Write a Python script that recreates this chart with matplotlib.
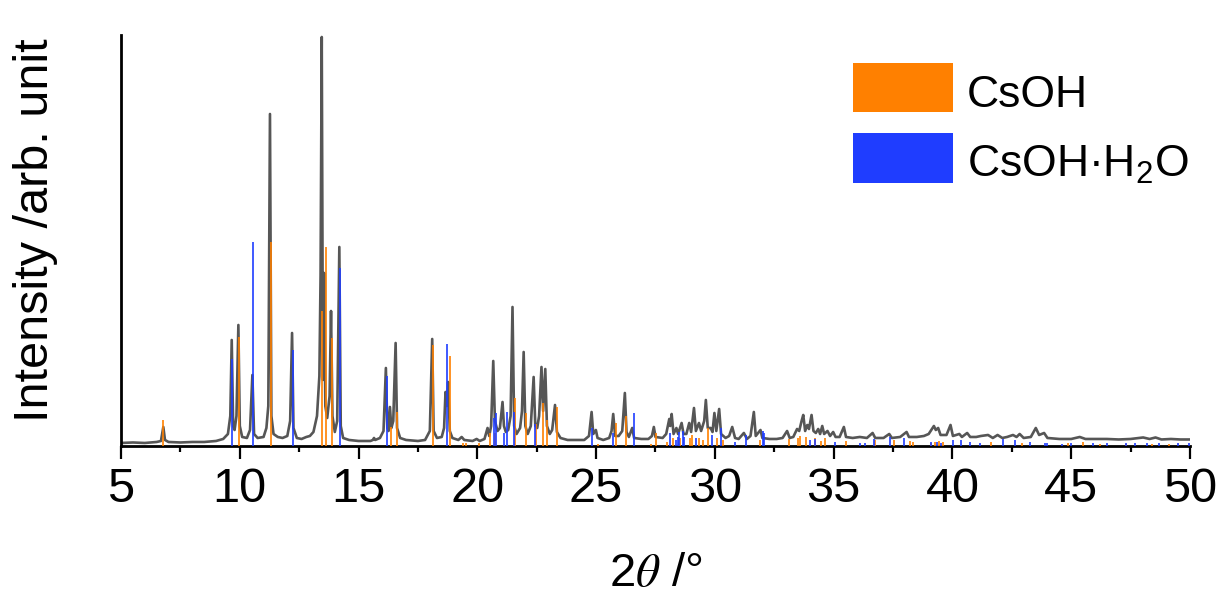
import matplotlib
matplotlib.use('Agg')
import matplotlib.pyplot as plt
from matplotlib.patches import Rectangle

plt.rcParams['font.family'] = ['Liberation Sans', 'DejaVu Sans']
plt.rcParams['mathtext.fontset'] = 'custom'
plt.rcParams['mathtext.rm'] = 'Liberation Sans'
plt.rcParams['mathtext.it'] = 'Liberation Sans:italic'

two_theta = [5.0, 5.5, 6.0, 6.5, 6.68, 6.78, 6.85, 7.0, 7.5, 8.0, 8.5, 9.0, 9.3, 9.5, 9.6, 9.66, 9.72, 9.78,
             9.86, 9.94, 10.0, 10.1, 10.3, 10.43, 10.53, 10.6, 10.75, 11.0, 11.12, 11.2, 11.27, 11.33, 11.42,
             11.6, 11.8, 12.0, 12.12, 12.2, 12.26, 12.4, 12.6, 12.8, 12.95, 13.1, 13.25, 13.35, 13.4, 13.45,
             13.5, 13.55, 13.6, 13.68, 13.78, 13.84, 13.9, 14.0, 14.1, 14.19, 14.25, 14.35, 14.6, 15.0, 15.5,
             15.6, 15.65, 15.7, 15.9, 16.05, 16.15, 16.21, 16.26, 16.32, 16.38, 16.46, 16.56, 16.62, 16.75,
             17.0, 17.5, 17.8, 18.0, 18.1, 18.16, 18.3, 18.5, 18.6, 18.66, 18.71, 18.77, 18.84, 18.95, 19.2,
             19.34, 19.45, 19.8, 19.97, 20.1, 20.3, 20.43, 20.5, 20.58, 20.67, 20.74, 20.85, 20.95, 21.06,
             21.12, 21.2, 21.3, 21.4, 21.48, 21.55, 21.65, 21.8, 21.88, 21.95, 22.02, 22.12, 22.25, 22.37,
             22.44, 22.52, 22.6, 22.7, 22.77, 22.86, 22.93, 23.05, 23.15, 23.27, 23.35, 23.5, 23.8, 24.2,
             24.5, 24.7, 24.81, 24.88, 24.99, 25.06, 25.3, 25.55, 25.65, 25.72, 25.8, 25.95, 26.1, 26.21,
             26.28, 26.38, 26.52, 26.6, 26.9, 27.2, 27.35, 27.43, 27.5, 27.8, 27.95, 28.08, 28.12, 28.18,
             28.26, 28.38, 28.45, 28.6, 28.68, 28.8, 28.92, 29.0, 29.12, 29.2, 29.33, 29.42, 29.55, 29.62,
             29.7, 29.82, 29.9, 29.98, 30.06, 30.18, 30.26, 30.45, 30.6, 30.73, 30.85, 31.0, 31.22, 31.35,
             31.5, 31.64, 31.72, 31.92, 32.0, 32.3, 32.6, 32.85, 33.04, 33.15, 33.3, 33.46, 33.55, 33.65,
             33.72, 33.8, 33.89, 33.96, 34.07, 34.15, 34.25, 34.35, 34.43, 34.52, 34.6, 34.74, 34.85, 34.98,
             35.08, 35.25, 35.43, 35.52, 35.8, 36.1, 36.4, 36.64, 36.75, 37.1, 37.34, 37.45, 37.8, 38.07,
             38.17, 38.5, 38.8, 39.0, 39.22, 39.3, 39.4, 39.5, 39.75, 39.92, 40.02, 40.29, 40.4, 40.62, 40.75,
             41.0, 41.2, 41.5, 41.7, 41.9, 42.1, 42.3, 42.55, 42.7, 42.83, 43.0, 43.3, 43.51, 43.65, 43.86,
             44.0, 44.5, 45.0, 45.36, 45.6, 46.0, 46.5, 47.0, 47.5, 48.03, 48.3, 48.55, 48.8, 49.2, 49.6, 49.95]
intensity = [3, 3.5, 3, 4, 5, 19, 6, 4, 3.5, 4, 4, 5, 7, 12, 30, 106, 20, 16,
             30, 121, 20, 9, 8, 16, 71, 12, 8, 9, 18, 40, 332, 30, 12,
             9, 8, 10, 25, 113, 18, 8, 7, 9, 10, 14, 30, 70, 170, 409,
             66, 173, 40, 28, 50, 135, 30, 14, 25, 199, 20, 8, 6, 5, 5,
             6, 8, 6, 8, 15, 78, 18, 15, 39, 18, 25, 103, 18, 8,
             6, 5, 6, 15, 107, 15, 8, 9, 18, 54, 40, 64, 15, 8, 6,
             9, 6, 5, 7, 5, 7, 18, 10, 20, 85, 25, 15, 18, 44,
             20, 14, 16, 30, 139, 20, 12, 18, 35, 94, 20, 12, 20, 69,
             20, 18, 30, 79, 35, 77, 20, 12, 16, 41, 14, 8, 6, 6,
             6, 10, 34, 12, 16, 8, 6, 8, 15, 32, 10, 10, 15, 53,
             14, 9, 18, 8, 7, 7, 10, 19, 9, 8, 12, 27, 20, 32,
             12, 18, 12, 23, 12, 12, 23, 14, 38, 15, 23, 15, 25, 46,
             18, 18, 14, 33, 15, 37, 12, 8, 10, 19, 8, 7, 13, 7,
             10, 34, 10, 16, 8, 7, 7, 8, 15, 8, 9, 17, 15, 25,
             31, 15, 21, 17, 31, 15, 13, 17, 12, 20, 12, 15, 10, 14,
             9, 9, 19, 9, 8, 9, 8, 13, 8, 8, 12, 8, 9, 14,
             9, 9, 10, 12, 20, 16, 18, 11, 11, 21, 10, 12, 9, 13, 9,
             9, 10, 11, 8, 11, 8, 9, 11, 9, 12, 8, 9, 18, 11, 13,
             8, 7, 7, 9, 7, 7, 7, 6.5, 7, 8.5, 7, 8.5, 6.5, 7, 6.5, 6.5]

# reference patterns (stick positions and heights)
csoh_pos = [6.78, 9.98, 11.30, 13.47, 13.63, 13.89, 16.36, 16.60, 18.15, 18.85, 19.40, 19.52, 20.07,
            20.53, 20.74, 21.57, 22.05, 22.47, 22.76, 22.92, 23.34, 25.09, 25.82, 26.27, 27.29, 27.52,
            27.99, 28.24, 28.53, 28.95, 29.04, 29.34, 29.48, 29.72, 30.07, 30.35, 31.89, 33.13, 33.50,
            33.6, 33.85, 34.2, 34.45, 34.63, 35.5, 36.73, 37.55, 38.21, 38.35, 39.1, 39.26, 39.45, 39.6,
            41.62, 42.95, 44.86, 45.50, 46.2, 47.3, 48.4, 49.1]
csoh_int = [26, 109, 204, 135, 199, 108, 19, 34, 101, 90, 3, 3, 3,
            13, 13, 48, 33, 22, 43, 26, 39, 2, 23, 30, 2, 13,
            4, 8, 8, 8, 11, 8, 6, 18, 8, 6, 6, 7, 8,
            10, 9, 8, 5, 8, 5, 6, 6, 5, 4, 3, 4, 5, 4,
            4, 3, 3, 4, 2, 2, 2, 2]

hydrate_pos = [9.66, 10.57, 12.23, 14.22, 16.19, 18.71, 20.70, 20.80, 21.12, 21.23, 21.54, 22.42,
               24.83, 25.73, 26.58, 28.12, 28.35, 28.43, 28.48, 28.64, 28.68, 29.21, 29.86, 30.27,
               30.84, 31.29, 32.03, 32.08, 34.0, 34.21, 35.05, 36.1, 36.3, 36.7, 37.37, 37.97, 39.1,
               39.33, 39.54, 40.03, 40.38, 40.73, 41.18, 42.13, 42.63, 43.26, 43.9, 44.0, 44.6, 45.0,
               45.9, 46.5, 47.3, 47.7, 48.2, 48.7, 49.5, 49.95]
hydrate_int = [87, 204, 96, 178, 70, 102, 28, 33, 13, 34, 34, 22,
               18, 13, 33, 13, 6, 9, 14, 15, 9, 8, 11, 18,
               4, 11, 15, 13, 6, 7, 4, 3, 3, 7, 9, 8, 4,
               4, 3, 6, 6, 4, 3, 7, 6, 4, 3, 3, 2, 3,
               3, 3, 3, 3, 3, 3, 3, 3]

orange = '#FF8000'
blue = '#1F3DFF'
gray = '#565656'

fig = plt.figure(figsize=(12.25, 6), dpi=100)
ax = fig.add_axes([0.0988, 0.2567, 0.8726, 0.685])

ax.plot(two_theta, intensity, color=gray, lw=1.9, zorder=2)
ax.vlines(csoh_pos, 0, csoh_int, colors=orange, lw=1.2, zorder=3)
ax.vlines(hydrate_pos, 0, hydrate_int, colors=blue, lw=1.2, zorder=3)

ax.set_xlim(5, 50)
ax.set_ylim(0, 411)
ax.set_xticks(range(5, 51, 5))
ax.set_xticks([x + 2.5 for x in range(5, 50, 5)], minor=True)
ax.set_yticks([])
ax.tick_params(axis='x', which='major', direction='out', length=9, width=1.6,
               labelsize=35, pad=6)
ax.tick_params(axis='x', which='minor', direction='out', length=4, width=1.6)
for s in ['top', 'right']:
    ax.spines[s].set_visible(False)
for s in ['left', 'bottom']:
    ax.spines[s].set_linewidth(2.0)

fig.text(0.029, 0.617, 'Intensity /arb. unit', rotation=90, ha='center', va='center', fontsize=35)
fig.text(0.535, 0.006, r'2$\theta$ /°', ha='center', va='bottom', fontsize=34,
         math_fontfamily='stix')

# legend
fig.patches.append(Rectangle((0.6963, 0.8133), 0.0816, 0.0817, transform=fig.transFigure,
                             facecolor=orange, edgecolor='none'))
fig.patches.append(Rectangle((0.6963, 0.695), 0.0816, 0.0833, transform=fig.transFigure,
                             facecolor=blue, edgecolor='none'))
fig.text(0.7894, 0.8217, 'CsOH', ha='left', va='baseline', fontsize=32)
fig.text(0.7894, 0.705, r'CsOH·H$_2$O', ha='left', va='baseline', fontsize=32)

plt.savefig('out.png', dpi=100)
